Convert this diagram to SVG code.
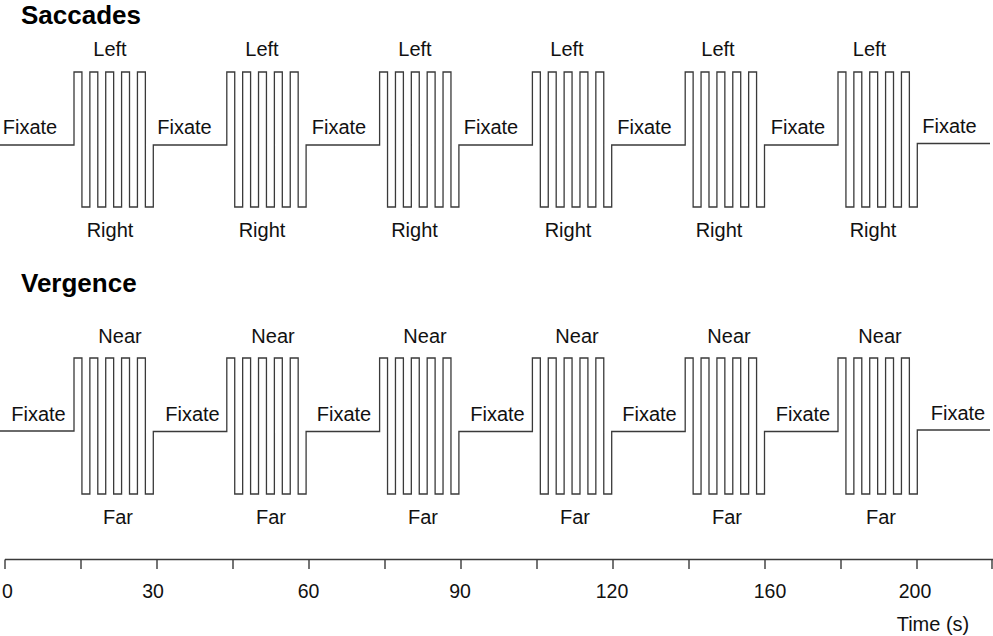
<svg xmlns="http://www.w3.org/2000/svg" width="993" height="636" viewBox="0 0 993 636">
<style>
.bg{fill:#ffffff}
.wave{fill:none;stroke:#3a3a3a;stroke-width:1.3;stroke-linejoin:miter}
.axis{fill:none;stroke:#3a3a3a;stroke-width:1.4}
.lbl{font-family:"Liberation Sans",Arial,Helvetica,sans-serif;font-size:20px;fill:#111111;text-anchor:middle}
.num{font-family:"Liberation Sans",Arial,Helvetica,sans-serif;font-size:19.5px;fill:#111111;text-anchor:middle}
.title{font-family:"Liberation Sans",Arial,Helvetica,sans-serif;font-size:26px;font-weight:bold;fill:#000000}
</style>
<rect class="bg" x="0" y="0" width="993" height="636"/>

<g id="saccades">
  <text class="title" x="21" y="23.5">Saccades</text>
  <path class="wave" d="M0,145 H74
    V72 h7.93 V207 h7.93 V72 h7.93 V207 h7.93 V72 h7.93 V207 h7.93 V72 h7.93 V207 h7.93 V72 h7.93 V207 h7.93 V145 H226.8
    V72 h7.93 V207 h7.93 V72 h7.93 V207 h7.93 V72 h7.93 V207 h7.93 V72 h7.93 V207 h7.93 V72 h7.93 V207 h7.93 V145 H379.6
    V72 h7.93 V207 h7.93 V72 h7.93 V207 h7.93 V72 h7.93 V207 h7.93 V72 h7.93 V207 h7.93 V72 h7.93 V207 h7.93 V145 H532.4
    V72 h7.93 V207 h7.93 V72 h7.93 V207 h7.93 V72 h7.93 V207 h7.93 V72 h7.93 V207 h7.93 V72 h7.93 V207 h7.93 V145 H685.2
    V72 h7.93 V207 h7.93 V72 h7.93 V207 h7.93 V72 h7.93 V207 h7.93 V72 h7.93 V207 h7.93 V72 h7.93 V207 h7.93 V145 H838
    V72 h7.93 V207 h7.93 V72 h7.93 V207 h7.93 V72 h7.93 V207 h7.93 V72 h7.93 V207 h7.93 V72 h7.93 V207 h7.93 V143.5 H990"/>
  <g id="saccade-fixate-labels">
    <text class="lbl" x="30" y="134">Fixate</text>
    <text class="lbl" x="184.5" y="134">Fixate</text>
    <text class="lbl" x="339" y="134">Fixate</text>
    <text class="lbl" x="491" y="134">Fixate</text>
    <text class="lbl" x="644.5" y="134">Fixate</text>
    <text class="lbl" x="798" y="134">Fixate</text>
    <text class="lbl" x="949.5" y="133">Fixate</text>
  </g>
  <g id="saccade-left-labels">
    <text class="lbl" x="110" y="56">Left</text>
    <text class="lbl" x="262" y="56">Left</text>
    <text class="lbl" x="415" y="56">Left</text>
    <text class="lbl" x="567" y="56">Left</text>
    <text class="lbl" x="718" y="56">Left</text>
    <text class="lbl" x="869.5" y="56">Left</text>
  </g>
  <g id="saccade-right-labels">
    <text class="lbl" x="110" y="237">Right</text>
    <text class="lbl" x="262" y="237">Right</text>
    <text class="lbl" x="414.5" y="237">Right</text>
    <text class="lbl" x="568" y="237">Right</text>
    <text class="lbl" x="719" y="237">Right</text>
    <text class="lbl" x="873" y="237">Right</text>
  </g>
</g>

<g id="vergence">
  <text class="title" x="21" y="292">Vergence</text>
  <path class="wave" d="M0,431 H74
    V358 h7.93 V494 h7.93 V358 h7.93 V494 h7.93 V358 h7.93 V494 h7.93 V358 h7.93 V494 h7.93 V358 h7.93 V494 h7.93 V431.5 H226.8
    V358 h7.93 V494 h7.93 V358 h7.93 V494 h7.93 V358 h7.93 V494 h7.93 V358 h7.93 V494 h7.93 V358 h7.93 V494 h7.93 V431.5 H379.6
    V358 h7.93 V494 h7.93 V358 h7.93 V494 h7.93 V358 h7.93 V494 h7.93 V358 h7.93 V494 h7.93 V358 h7.93 V494 h7.93 V431.5 H532.4
    V358 h7.93 V494 h7.93 V358 h7.93 V494 h7.93 V358 h7.93 V494 h7.93 V358 h7.93 V494 h7.93 V358 h7.93 V494 h7.93 V431.5 H685.2
    V358 h7.93 V494 h7.93 V358 h7.93 V494 h7.93 V358 h7.93 V494 h7.93 V358 h7.93 V494 h7.93 V358 h7.93 V494 h7.93 V431.5 H838
    V358 h7.93 V494 h7.93 V358 h7.93 V494 h7.93 V358 h7.93 V494 h7.93 V358 h7.93 V494 h7.93 V358 h7.93 V494 h7.93 V430 H990"/>
  <g id="vergence-fixate-labels">
    <text class="lbl" x="38.5" y="421">Fixate</text>
    <text class="lbl" x="192.5" y="421">Fixate</text>
    <text class="lbl" x="344" y="421">Fixate</text>
    <text class="lbl" x="497.5" y="421">Fixate</text>
    <text class="lbl" x="649.5" y="421">Fixate</text>
    <text class="lbl" x="803" y="421">Fixate</text>
    <text class="lbl" x="958" y="420">Fixate</text>
  </g>
  <g id="vergence-near-labels">
    <text class="lbl" x="120" y="343">Near</text>
    <text class="lbl" x="273" y="343">Near</text>
    <text class="lbl" x="425" y="343">Near</text>
    <text class="lbl" x="577" y="343">Near</text>
    <text class="lbl" x="729" y="343">Near</text>
    <text class="lbl" x="880" y="343">Near</text>
  </g>
  <g id="vergence-far-labels">
    <text class="lbl" x="118" y="524">Far</text>
    <text class="lbl" x="271" y="524">Far</text>
    <text class="lbl" x="423" y="524">Far</text>
    <text class="lbl" x="575" y="524">Far</text>
    <text class="lbl" x="727" y="524">Far</text>
    <text class="lbl" x="881" y="524">Far</text>
  </g>
</g>

<g id="time-axis">
  <path class="axis" d="M5,559.5 H993
    M5,559.5 V569 M81,559.5 V569 M157,559.5 V569 M233,559.5 V569 M309,559.5 V569 M385,559.5 V569 M461,559.5 V569
    M537,559.5 V569 M613,559.5 V569 M689,559.5 V569 M765,559.5 V569 M841,559.5 V569 M917,559.5 V569 M992,559.5 V569"/>
  <text class="num" x="7.5" y="598">0</text>
  <text class="num" x="153" y="598">30</text>
  <text class="num" x="308.5" y="598">60</text>
  <text class="num" x="460" y="598">90</text>
  <text class="num" x="612" y="598">120</text>
  <text class="num" x="770" y="598">160</text>
  <text class="num" x="915" y="598">200</text>
  <text class="lbl" x="933" y="631">Time (s)</text>
</g>
</svg>
